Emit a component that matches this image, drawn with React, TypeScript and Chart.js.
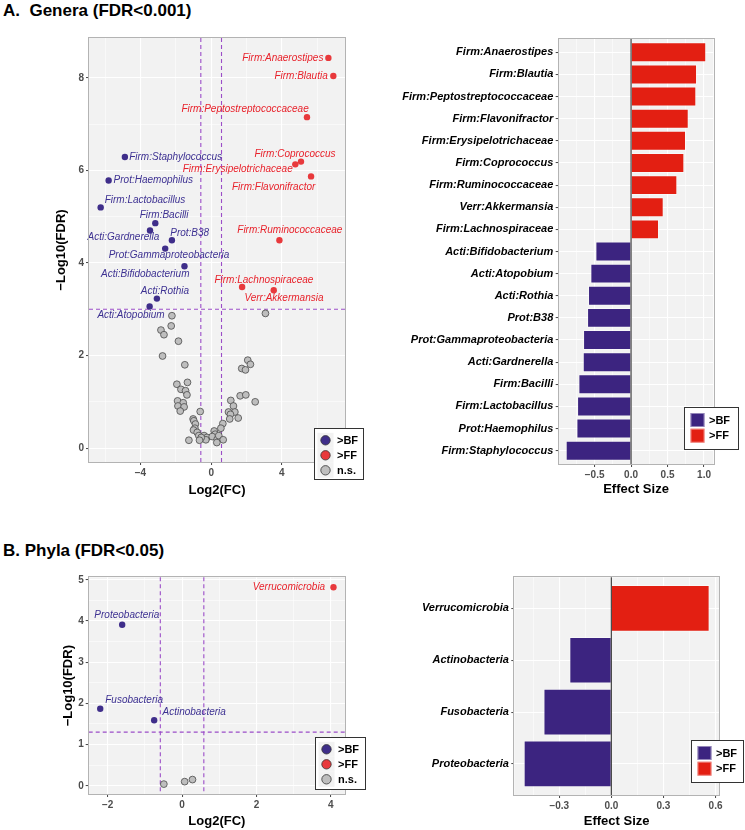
import React, { useEffect, useRef } from 'react';
import { Chart, registerables } from 'chart.js';

Chart.register(...registerables);

// ================= DATA =================
const panelATitle = 'A.  Genera (FDR<0.001)';
const panelBTitle = 'B. Phyla (FDR<0.05)';
const groupLabels = ['>BF', '>FF', 'n.s.'];

// Panel A volcano (genera)
const generaBFNames = ['Firm:Staphylococcus', 'Prot:Haemophilus', 'Firm:Lactobacillus', 'Firm:Bacilli', 'Acti:Gardnerella', 'Prot:B38', 'Prot:Gammaproteobacteria', 'Acti:Bifidobacterium', 'Acti:Rothia', 'Acti:Atopobium'];
const generaBFLog2FC = [-4.88, -5.8, -6.25, -3.16, -3.46, -2.22, -2.6, -1.51, -3.07, -3.48];
const generaBFNegLog10FDR = [6.29, 5.78, 5.2, 4.86, 4.7, 4.49, 4.31, 3.93, 3.23, 3.06];

const generaFFNames = ['Firm:Anaerostipes', 'Firm:Blautia', 'Firm:Peptostreptococcaceae', 'Firm:Coprococcus', 'Firm:Erysipelotrichaceae', 'Firm:Flavonifractor', 'Firm:Ruminococcaceae', 'Firm:Lachnospiraceae', 'Verr:Akkermansia'];
const generaFFLog2FC = [6.63, 6.91, 5.42, 5.08, 4.76, 5.65, 3.86, 1.75, 3.54];
const generaFFNegLog10FDR = [8.43, 8.04, 7.15, 6.19, 6.13, 5.87, 4.49, 3.48, 3.41];

const generaNSLog2FC = [3.07, -2.22, -2.26, -2.84, -2.67, -1.85, -2.75, -1.49, 2.07, 2.22, 1.73, 1.94, -1.94, -1.34, -1.71, -1.45, -1.37, 1.64, 1.96, 2.49, 1.11, -1.9, -1.58, -1.88, -1.53, -1.75, 1.26, 0.98, 1.34, 1.09, 1.53, 1.05, -0.62, -1.02, -0.98, -0.89, 0.66, 0.55, -0.92, -1.0, -0.79, -0.7, -1.26, -0.4, -0.24, -0.3, 0.17, 0.23, 0.06, 0.34, 0.43, 0.68, 0.32, -0.56, -0.66];
const generaNSNegLog10FDR = [2.91, 2.86, 2.64, 2.55, 2.45, 2.31, 1.99, 1.8, 1.9, 1.81, 1.72, 1.69, 1.38, 1.42, 1.27, 1.24, 1.15, 1.13, 1.15, 1.0, 1.03, 1.02, 0.98, 0.91, 0.89, 0.8, 0.91, 0.78, 0.78, 0.73, 0.65, 0.63, 0.79, 0.63, 0.59, 0.52, 0.53, 0.43, 0.43, 0.39, 0.34, 0.27, 0.17, 0.27, 0.23, 0.18, 0.37, 0.3, 0.25, 0.19, 0.27, 0.18, 0.12, 0.23, 0.17];

const generaXMajorTicks = [-4, 0, 4];
const generaXMinorTicks = [-6, -2, 2, 6];
const generaYMajorTicks = [0, 2, 4, 6, 8];
const generaYMinorTicks = [1, 3, 5, 7];

// Panel A bars (genera effect size)
const generaBarNames = ['Firm:Anaerostipes', 'Firm:Blautia', 'Firm:Peptostreptococcaceae', 'Firm:Flavonifractor', 'Firm:Erysipelotrichaceae', 'Firm:Coprococcus', 'Firm:Ruminococcaceae', 'Verr:Akkermansia', 'Firm:Lachnospiraceae', 'Acti:Bifidobacterium', 'Acti:Atopobium', 'Acti:Rothia', 'Prot:B38', 'Prot:Gammaproteobacteria', 'Acti:Gardnerella', 'Firm:Bacilli', 'Firm:Lactobacillus', 'Prot:Haemophilus', 'Firm:Staphylococcus'];
const generaEffectSize = [1.03, 0.904, 0.894, 0.79, 0.753, 0.73, 0.634, 0.447, 0.383, -0.489, -0.558, -0.59, -0.603, -0.658, -0.662, -0.722, -0.74, -0.749, -0.896];
const generaESMajorTicks = [-0.5, 0, 0.5, 1.0];
const generaESMinorTicks = [-0.75, -0.25, 0.25, 0.75];

// Panel B volcano (phyla)
const phylaBFNames = ['Proteobacteria', 'Fusobacteria', 'Actinobacteria'];
const phylaBFLog2FC = [-1.61, -2.2, -0.75];
const phylaBFNegLog10FDR = [3.91, 1.87, 1.59];
const phylaFFNames = ['Verrucomicrobia'];
const phylaFFLog2FC = [4.07];
const phylaFFNegLog10FDR = [4.82];
const phylaNSLog2FC = [-0.49, 0.07, 0.28];
const phylaNSNegLog10FDR = [0.04, 0.1, 0.15];

const phylaXMajorTicks = [-2, 0, 2, 4];
const phylaXMinorTicks = [-1, 1, 3];
const phylaYMajorTicks = [0, 1, 2, 3, 4, 5];
const phylaYMinorTicks = [0.5, 1.5, 2.5, 3.5, 4.5];

// Panel B bars (phyla effect size)
const phylaBarNames = ['Verrucomicrobia', 'Actinobacteria', 'Fusobacteria', 'Proteobacteria'];
const phylaEffectSize = [0.566, -0.242, -0.391, -0.505];
const phylaESMajorTicks = [-0.3, 0, 0.3, 0.6];
const phylaESMinorTicks = [-0.45, -0.15, 0.15, 0.45];

// thresholds
const log2FCCut = 0.585;
const generaFDRCut = 3; // -log10(0.001)
const phylaFDRCut = 1.301; // -log10(0.05)

// ================= STYLE =================
const FONT = '"Liberation Sans", Arial, Helvetica, sans-serif';
const PANEL_BG = '#F2F2F2';
const PANEL_BORDER = '#B3B3B3';
const GRID = '#FFFFFF';
const TICK_TEXT = '#4D4D4D';
const TICK_MARK = '#444444';
const BF_POINT = '#3F2E8A';
const FF_POINT = '#E8393C';
const BF_TEXT = '#3D3192';
const FF_TEXT = '#E8222B';
const NS_FILL = '#BEBEBE';
const NS_EDGE = '#4A4A4A';
const BF_BAR = '#3C2480';
const FF_BAR = '#E31F12';
const THRESH = '#9B4DC8';
const KEY_BG = '#F2F2F2';

Chart.defaults.font.family = FONT;

type Placement = [number, number, CanvasTextAlign];

// label offsets (pixels) relative to each point, ggrepel-like layout
const generaBFPlacement: Placement[] = [[4.3, 0, 'left'], [5, 0, 'left'], [4, -7.4, 'left'], [8.8, -8, 'center'], [9.3, 6.6, 'right'], [-1.7, -7.4, 'left'], [3.8, 6.7, 'center'], [5, 7.6, 'right'], [8, -7.7, 'center'], [15, 9, 'right']];
const generaFFPlacement: Placement[] = [[-5, 0.6, 'right'], [-5.6, 0, 'right'], [1.7, -8, 'right'], [-6, -7.4, 'center'], [-2.6, 5.3, 'right'], [4.3, 11.3, 'right'], [10.4, -9.7, 'center'], [21.8, -7, 'center'], [10.2, 7.6, 'center']];
const phylaBFPlacement: Placement[] = [[4.7, -9, 'center'], [5, -8.4, 'left'], [8.3, -7.6, 'left']];
const phylaFFPlacement: Placement[] = [[-8.3, 0, 'right']];

const near = (arr: number[], v: number) => arr.some((a) => Math.abs(a - v) < 1e-9);
const fmtNum = (digits: number) => (v: number) =>
  (v < -1e-9 ? '\u2212' : '') + Math.abs(v).toFixed(digits);

function linearAxis(o: any) {
  const all = [...o.major, ...o.minor].sort((a: number, b: number) => a - b);
  return {
    type: 'linear',
    min: o.min,
    max: o.max,
    offset: false,
    afterBuildTicks: (s: any) => {
      s.ticks = all.map((value: number) => ({ value }));
    },
    afterFit: o.fit,
    ticks: {
      autoSkip: false,
      maxRotation: 0,
      minRotation: 0,
      padding: 2,
      color: TICK_TEXT,
      font: { family: FONT, size: 10, weight: 'bold' },
      callback: (v: any) => (near(o.major, Number(v)) ? o.fmt(Number(v)) : ''),
    },
    grid: {
      offset: false,
      color: GRID,
      lineWidth: (c: any) => (c.tick && near(o.major, c.tick.value) ? 1.1 : 0.55),
      drawTicks: true,
      tickLength: 3,
      tickWidth: 1,
      tickColor: (c: any) => (c.tick && near(o.major, c.tick.value) ? TICK_MARK : 'rgba(0,0,0,0)'),
    },
    border: { display: false },
    title: o.title
      ? {
          display: true,
          text: o.title,
          color: '#000',
          font: { family: FONT, size: 13, weight: 'bold' },
          padding: o.titlePad,
        }
      : { display: false },
  };
}

const panelBgPlugin = {
  id: 'panelBg',
  beforeDraw(chart: any) {
    const { ctx, chartArea: a } = chart;
    ctx.save();
    ctx.fillStyle = PANEL_BG;
    ctx.fillRect(a.left, a.top, a.right - a.left, a.bottom - a.top);
    ctx.restore();
  },
};

const panelBorderPlugin = {
  id: 'panelBorder',
  afterDraw(chart: any) {
    const { ctx, chartArea: a } = chart;
    ctx.save();
    ctx.strokeStyle = PANEL_BORDER;
    ctx.lineWidth = 1;
    ctx.strokeRect(Math.round(a.left) - 0.5, Math.round(a.top) - 0.5, Math.round(a.right - a.left) + 1, Math.round(a.bottom - a.top) + 1);
    ctx.restore();
  },
};

function thresholdPlugin(fc: number, fdr: number) {
  return {
    id: 'thresholds',
    beforeDatasetsDraw(chart: any) {
      const { ctx, chartArea: a, scales } = chart;
      ctx.save();
      ctx.strokeStyle = THRESH;
      ctx.lineWidth = 1.1;
      ctx.setLineDash([4, 3]);
      [-fc, fc].forEach((v) => {
        const x = scales.x.getPixelForValue(v);
        ctx.beginPath();
        ctx.moveTo(x, a.top);
        ctx.lineTo(x, a.bottom);
        ctx.stroke();
      });
      const y = scales.y.getPixelForValue(fdr);
      ctx.beginPath();
      ctx.moveTo(a.left, y);
      ctx.lineTo(a.right, y);
      ctx.stroke();
      ctx.restore();
    },
  };
}

function pointLabelPlugin(groups: any[]) {
  return {
    id: 'pointLabels',
    afterDatasetsDraw(chart: any) {
      const { ctx, scales } = chart;
      ctx.save();
      ctx.font = `italic 10px ${FONT}`;
      ctx.textBaseline = 'middle';
      groups.forEach((g) =>
        g.names.forEach((name: string, i: number) => {
          const px = scales.x.getPixelForValue(g.x[i]);
          const py = scales.y.getPixelForValue(g.y[i]);
          const [dx, dy, align] = g.place[i];
          ctx.fillStyle = g.color;
          ctx.textAlign = align;
          ctx.fillText(name, px + dx, py + dy);
        })
      );
      ctx.restore();
    },
  };
}

function volcanoLegendPlugin(box: number[]) {
  return {
    id: 'volcanoLegend',
    afterDraw(chart: any) {
      const { ctx, chartArea: a } = chart;
      const [dr, db, w, h] = box;
      const L = Math.round(a.right - dr);
      const T = Math.round(a.bottom - db);
      ctx.save();
      ctx.fillStyle = '#fff';
      ctx.fillRect(L, T, w, h);
      ctx.strokeStyle = '#333';
      ctx.lineWidth = 1;
      ctx.strokeRect(L + 0.5, T + 0.5, w, h);
      const fills = [BF_POINT, FF_POINT, NS_FILL];
      groupLabels.forEach((label, i) => {
        const cy = T + 12.3 + i * 15;
        ctx.fillStyle = KEY_BG;
        ctx.fillRect(L + 3.5, cy - 7.5, 16, 15);
        ctx.beginPath();
        ctx.arc(L + 11.5, cy, 4.7, 0, Math.PI * 2);
        ctx.fillStyle = fills[i];
        ctx.fill();
        ctx.strokeStyle = '#333';
        ctx.lineWidth = 0.8;
        ctx.stroke();
        ctx.fillStyle = '#000';
        ctx.font = `bold 11px ${FONT}`;
        ctx.textBaseline = 'middle';
        ctx.textAlign = 'left';
        ctx.fillText(label, L + 23, cy + 0.5);
      });
      ctx.restore();
    },
  };
}

function barLegendPlugin(box: number[]) {
  return {
    id: 'barLegend',
    afterDraw(chart: any) {
      const { ctx, chartArea: a } = chart;
      const [dr, db, w, h] = box;
      const L = Math.round(a.right - dr);
      const T = Math.round(a.bottom - db);
      ctx.save();
      ctx.fillStyle = '#fff';
      ctx.fillRect(L, T, w, h);
      ctx.strokeStyle = '#333';
      ctx.lineWidth = 1;
      ctx.strokeRect(L + 0.5, T + 0.5, w, h);
      const fills = [BF_BAR, FF_BAR];
      groupLabels.slice(0, 2).forEach((label, i) => {
        const top = T + 6 + i * 15.7;
        ctx.fillStyle = fills[i];
        ctx.fillRect(L + 6.5, top, 14, 14);
        ctx.strokeStyle = 'rgba(255,255,255,0.45)';
        ctx.lineWidth = 1;
        ctx.strokeRect(L + 7, top + 0.5, 13, 13);
        ctx.fillStyle = '#000';
        ctx.font = `bold 11px ${FONT}`;
        ctx.textBaseline = 'middle';
        ctx.textAlign = 'left';
        ctx.fillText(label, L + 25, top + 7.5);
      });
      ctx.restore();
    },
  };
}

const zeroLinePlugin = {
  id: 'zeroLine',
  afterDatasetsDraw(chart: any) {
    const { ctx, chartArea: a, scales } = chart;
    const x = scales.x.getPixelForValue(0);
    ctx.save();
    ctx.strokeStyle = '#444';
    ctx.lineWidth = 1.2;
    ctx.beginPath();
    ctx.moveTo(x, a.top);
    ctx.lineTo(x, a.bottom);
    ctx.stroke();
    ctx.restore();
  },
};

function makeVolcano(canvas: HTMLCanvasElement, s: any) {
  const toPts = (xs: number[], ys: number[]) => xs.map((x, i) => ({ x, y: ys[i] }));
  return new Chart(canvas, {
    type: 'scatter',
    data: {
      datasets: [
        { label: groupLabels[0], data: toPts(s.bf.x, s.bf.y), pointRadius: 3.2, pointBackgroundColor: BF_POINT, pointBorderColor: BF_POINT, pointBorderWidth: 0 },
        { label: groupLabels[1], data: toPts(s.ff.x, s.ff.y), pointRadius: 3.2, pointBackgroundColor: FF_POINT, pointBorderColor: FF_POINT, pointBorderWidth: 0 },
        { label: groupLabels[2], data: toPts(s.ns.x, s.ns.y), pointRadius: 3.4, pointBackgroundColor: NS_FILL, pointBorderColor: NS_EDGE, pointBorderWidth: 0.8 },
      ],
    } as any,
    options: {
      responsive: false,
      animation: false,
      events: [],
      layout: { padding: { top: s.frame.padTop, right: s.frame.padRight, left: 0, bottom: 0 } },
      plugins: { legend: { display: false }, tooltip: { enabled: false } },
      scales: {
        x: linearAxis({
          min: s.xRange[0], max: s.xRange[1], major: s.xMajor, minor: s.xMinor, fmt: fmtNum(0),
          fit: (sc: any) => { sc.height = s.frame.xAxisHeight; },
          title: 'Log2(FC)', titlePad: { top: 0, bottom: s.frame.xTitlePad },
        }),
        y: linearAxis({
          min: s.yRange[0], max: s.yRange[1], major: s.yMajor, minor: s.yMinor, fmt: fmtNum(0),
          fit: (sc: any) => { sc.width = s.frame.yAxisWidth; },
          title: '\u2212Log10(FDR)', titlePad: { top: s.frame.yTitlePad, bottom: 0 },
        }),
      },
    } as any,
    plugins: [
      panelBgPlugin,
      thresholdPlugin(log2FCCut, s.fdrCut),
      pointLabelPlugin([
        { ...s.bf, color: BF_TEXT },
        { ...s.ff, color: FF_TEXT },
      ]),
      panelBorderPlugin,
      volcanoLegendPlugin(s.legend),
    ] as any,
  });
}

function makeBars(canvas: HTMLCanvasElement, s: any) {
  const names: string[] = s.names;
  return new Chart(canvas, {
    type: 'bar',
    data: {
      datasets: [
        {
          data: s.values.map((v: number, i: number) => ({ x: v, y: i })),
          backgroundColor: s.values.map((v: number) => (v >= 0 ? FF_BAR : BF_BAR)),
          borderColor: 'rgba(255,255,255,0.45)',
          borderWidth: 1,
          categoryPercentage: 0.9,
          barPercentage: 1,
        },
      ],
    } as any,
    options: {
      indexAxis: 'y',
      responsive: false,
      animation: false,
      events: [],
      layout: { padding: { top: s.frame.padTop, right: s.frame.padRight, left: 0, bottom: 0 } },
      plugins: { legend: { display: false }, tooltip: { enabled: false } },
      scales: {
        x: linearAxis({
          min: s.xRange[0], max: s.xRange[1], major: s.major, minor: s.minor, fmt: fmtNum(1),
          fit: (sc: any) => { sc.height = s.frame.xAxisHeight; },
          title: 'Effect Size', titlePad: { top: 0, bottom: s.frame.xTitlePad },
        }),
        y: {
          type: 'linear',
          reverse: true,
          offset: false,
          min: -0.6,
          max: names.length - 1 + 0.6,
          afterBuildTicks: (sc: any) => {
            sc.ticks = names.map((_, i) => ({ value: i }));
          },
          afterFit: (sc: any) => { sc.width = s.frame.yAxisWidth; },
          ticks: {
            autoSkip: false,
            padding: 2.4,
            color: '#000',
            font: { family: FONT, size: 11, weight: 'bold', style: 'italic' },
            callback: (v: any) => names[Math.round(Number(v))] ?? '',
          },
          grid: { offset: false, color: GRID, lineWidth: 1.1, drawTicks: true, tickLength: 3, tickWidth: 1, tickColor: TICK_MARK },
          border: { display: false },
        },
      },
    } as any,
    plugins: [panelBgPlugin, zeroLinePlugin, panelBorderPlugin, barLegendPlugin(s.legend)] as any,
  });
}

function ChartCanvas({ x, y, w, h, make }: { x: number; y: number; w: number; h: number; make: (c: HTMLCanvasElement) => Chart }) {
  const ref = useRef<HTMLCanvasElement>(null);
  useEffect(() => {
    const chart = make(ref.current as HTMLCanvasElement);
    return () => chart.destroy();
  }, []);
  return (
    <canvas
      ref={ref}
      width={w}
      height={h}
      style={{ position: 'absolute', left: x, top: y, width: w, height: h }}
    />
  );
}

const makeGeneraVolcano = (c: HTMLCanvasElement) =>
  makeVolcano(c, {
    bf: { x: generaBFLog2FC, y: generaBFNegLog10FDR, names: generaBFNames, place: generaBFPlacement },
    ff: { x: generaFFLog2FC, y: generaFFNegLog10FDR, names: generaFFNames, place: generaFFPlacement },
    ns: { x: generaNSLog2FC, y: generaNSNegLog10FDR },
    xRange: [-6.91, 7.57],
    yRange: [-0.3, 8.86],
    xMajor: generaXMajorTicks, xMinor: generaXMinorTicks,
    yMajor: generaYMajorTicks, yMinor: generaYMinorTicks,
    fdrCut: generaFDRCut,
    frame: { yAxisWidth: 89, xAxisHeight: 48, padTop: 8, padRight: 27, yTitlePad: 53.9, xTitlePad: 12.2 },
    legend: [31, 34, 49, 51],
  });

const makePhylaVolcano = (c: HTMLCanvasElement) =>
  makeVolcano(c, {
    bf: { x: phylaBFLog2FC, y: phylaBFNegLog10FDR, names: phylaBFNames, place: phylaBFPlacement },
    ff: { x: phylaFFLog2FC, y: phylaFFNegLog10FDR, names: phylaFFNames, place: phylaFFPlacement },
    ns: { x: phylaNSLog2FC, y: phylaNSNegLog10FDR },
    xRange: [-2.51, 4.38],
    yRange: [-0.2, 5.06],
    xMajor: phylaXMajorTicks, xMinor: phylaXMinorTicks,
    yMajor: phylaYMajorTicks, yMinor: phylaYMinorTicks,
    fdrCut: phylaFDRCut,
    frame: { yAxisWidth: 88.7, xAxisHeight: 36, padTop: 12.3, padRight: 27, yTitlePad: 60.7, xTitlePad: 1.2 },
    legend: [30, 57, 50, 52],
  });

const makeGeneraBars = (c: HTMLCanvasElement) =>
  makeBars(c, {
    names: generaBarNames,
    values: generaEffectSize,
    xRange: [-0.992, 1.127],
    major: generaESMajorTicks,
    minor: generaESMinorTicks,
    frame: { yAxisWidth: 178.7, xAxisHeight: 46, padTop: 8.3, padRight: 31.7, xTitlePad: 12.9 },
    legend: [29, 57, 54, 42],
  });

const makePhylaBars = (c: HTMLCanvasElement) =>
  makeBars(c, {
    names: phylaBarNames,
    values: phylaEffectSize,
    xRange: [-0.559, 0.62],
    major: phylaESMajorTicks,
    minor: phylaESMinorTicks,
    frame: { yAxisWidth: 134.3, xAxisHeight: 35, padTop: 12.3, padRight: 26, xTitlePad: 0.5 },
    legend: [28, 55, 52, 42],
  });

const titleStyle: React.CSSProperties = {
  position: 'absolute',
  left: 3,
  fontFamily: FONT,
  fontSize: 17,
  fontWeight: 'bold',
  lineHeight: '17px',
  whiteSpace: 'pre',
  color: '#000',
};

export default function App() {
  return (
    <div style={{ position: 'absolute', left: 0, top: 0, width: 745, height: 830, background: '#fff', overflow: 'hidden' }}>
      <div style={{ ...titleStyle, top: 2 }}>{panelATitle}</div>
      <div style={{ ...titleStyle, top: 542 }}>{panelBTitle}</div>
      <ChartCanvas x={0} y={30} w={372} h={480} make={makeGeneraVolcano} />
      <ChartCanvas x={380} y={30} w={365} h={480} make={makeGeneraBars} />
      <ChartCanvas x={0} y={565} w={372} h={265} make={makePhylaVolcano} />
      <ChartCanvas x={380} y={565} w={365} h={265} make={makePhylaBars} />
    </div>
  );
}
